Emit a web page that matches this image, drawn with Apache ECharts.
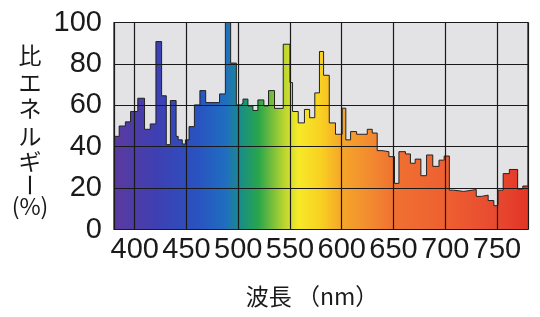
<!DOCTYPE html>
<html><head><meta charset="utf-8">
<script src="https://cdn.jsdelivr.net/npm/echarts@6/dist/echarts.min.js"></script>
<style>html,body{margin:0;padding:0;background:#fff}#c{width:540px;height:317px}</style>
</head><body><div id="c"></div>
<script>
// step edges (nm) and relative energy (%) for each step
const wavelengths = [380,385,391,396,403,409.5,415,420.5,426,430.5,434.5,440,442,446,449,452.5,457.7,463,468.6,482,487.6,492.7,498.2,502.4,504.6,509.4,514.2,519,524.8,529.3,535.1,543.5,550,552.5,558,564,569,574,578.5,582.5,588,594,600.5,604,608.6,614.4,624.7,629.5,634.3,639,645.6,651,655.3,661.6,666.4,671,676.5,682,688,694,699,704,708,718,730,735,741.5,747,751,756,762,770,775,780];
const energy = [45,50,52,57,63.4,48.4,51,90.8,64.6,41,62.3,45,43.3,41.3,43.3,49.7,60.2,67.1,61.3,65.5,100,80.4,60.2,61,63,59.7,57.5,62.6,59.7,67.1,58.5,89.5,71,57,51.5,58,54,66,86,74.5,51.5,46,58.6,43.3,47.3,46,48.4,46.6,38.1,37.6,35.2,22.3,37.6,36.5,32,34,26,36,30.5,33.5,35.5,19,18.4,19.3,16,16.6,14,11.5,19,27,29,19.5,21,21];
const xTicks = [400,450,500,550,600,650,700,750];
const yTicks = [0,20,40,60,80,100];
const yTitleChars = ['比','エ','ネ','ル','ギ','ー','(%)'];
const xTitle = '波長 （nm）';

const chart = echarts.init(document.getElementById('c'), null, {renderer:'canvas'});
const numFont = '"Liberation Sans", Arial, sans-serif';
const cjkFont = '"Noto Sans CJK JP", sans-serif';
const yTitlePos = [55, 82, 108, 136, 161, 185, 206];

const graphics = yTitleChars.map((ch, i) => ({
  type: 'text',
  x: 30, y: yTitlePos[i],
  rotation: ch === 'ー' ? -Math.PI / 2 : 0,
  style: {text: ch, font: '23px ' + cjkFont, fill: '#1a1a1a', align: 'center', verticalAlign: 'middle'}
}));
graphics.push({
  type: 'text', x: 312, y: 296,
  style: {text: xTitle, font: '23px ' + cjkFont, fill: '#1a1a1a', align: 'center', verticalAlign: 'middle'}
});

chart.setOption({
  animation: false,
  backgroundColor: '#ffffff',
  grid: {left: 114, top: 22.5, width: 414, height: 207, show: true, backgroundColor: '#e3e3e6', borderColor: '#1a1a1a', borderWidth: 1.2, z: 0},
  xAxis: {
    type: 'value', min: 380, max: 780, splitNumber: 8, z: 5,
    axisLine: {show: false}, axisTick: {show: false},
    splitLine: {show: true, lineStyle: {color: '#1a1a1a', width: 1.2}},
    axisLabel: {
      showMinLabel: false, showMaxLabel: false, margin: 6,
      color: '#1a1a1a', fontFamily: numFont, fontSize: 29,
      formatter: v => xTicks.includes(v) ? String(v) : ''
    }
  },
  yAxis: {
    type: 'value', min: yTicks[0], max: yTicks[yTicks.length-1], interval: 20, z: 5,
    axisLine: {show: false}, axisTick: {show: false},
    splitLine: {show: true, lineStyle: {color: '#1a1a1a', width: 1.2}},
    axisLabel: {margin: 12, color: '#1a1a1a', fontFamily: numFont, fontSize: 29, padding: [10,0,0,0]}
  },
  graphic: graphics,
  series: [{
    type: 'line', step: 'end', symbol: 'none', z: 2,
    data: wavelengths.map((w, i) => [w, energy[i]]),
    lineStyle: {color: '#222', width: 1},
    areaStyle: {
      opacity: 1,
      color: new echarts.graphic.LinearGradient(0, 0, 1, 0, [
        {offset: 0, color: '#5b3a9e'},
        {offset: 0.1, color: '#3f3fb2'},
        {offset: 0.2, color: '#2a52c0'},
        {offset: 0.27, color: '#1f6ec0'},
        {offset: 0.31, color: '#1a9080'},
        {offset: 0.35, color: '#2aa64a'},
        {offset: 0.41, color: '#b8d430'},
        {offset: 0.445, color: '#f6ea28'},
        {offset: 0.5, color: '#f8d022'},
        {offset: 0.55, color: '#f5a628'},
        {offset: 0.62, color: '#f28a30'},
        {offset: 0.68, color: '#f07030'},
        {offset: 0.8, color: '#ee6030'},
        {offset: 0.92, color: '#e84a30'},
        {offset: 1, color: '#e23525'}
      ])
    }
  }]
});
</script></body></html>
